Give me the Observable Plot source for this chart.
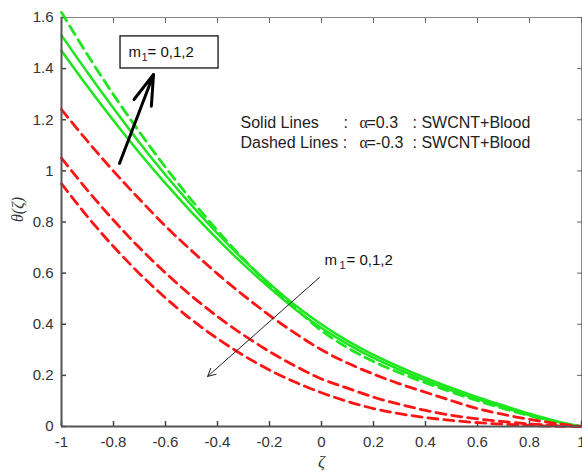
<!DOCTYPE html>
<html><head><meta charset="utf-8">
<script src="https://cdn.jsdelivr.net/npm/d3@7"></script>
<script src="https://cdn.jsdelivr.net/npm/@observablehq/plot@0.6"></script>
<style>body{margin:0;background:#fff} svg{display:block}</style>
</head><body><div id="chart"></div>
<script>
// ---- data ----
const zeta = [-1,-0.9,-0.8,-0.7,-0.6,-0.5,-0.4,-0.3,-0.2,-0.1,0,0.1,0.2,0.3,0.4,0.5,0.6,0.7,0.8,0.9,1];
// alpha = 0.3 (green)
const greenSolidA = [1.47,1.330,1.197,1.070,0.951,0.839,0.733,0.634,0.543,0.458,0.385,0.322,0.268,0.222,0.180,0.142,0.107,0.075,0.045,0.019,0];
const greenSolidB = [1.53,1.385,1.245,1.110,0.984,0.866,0.755,0.652,0.559,0.473,0.399,0.335,0.280,0.233,0.190,0.151,0.115,0.082,0.050,0.022,0];
const greenDashed = [1.62,1.454,1.298,1.152,1.014,0.886,0.766,0.655,0.554,0.462,0.375,0.308,0.254,0.210,0.171,0.135,0.101,0.070,0.042,0.017,0];
// alpha = -0.3 (red, dashed)
const redTop = [1.24,1.116,0.999,0.889,0.784,0.688,0.597,0.513,0.435,0.364,0.300,0.248,0.205,0.167,0.134,0.101,0.070,0.047,0.028,0.012,0];
const redMid = [1.05,0.924,0.807,0.699,0.601,0.511,0.430,0.358,0.293,0.236,0.186,0.150,0.115,0.087,0.063,0.044,0.030,0.019,0.010,0.004,0];
const redLow = [0.95,0.821,0.704,0.598,0.503,0.418,0.344,0.278,0.221,0.173,0.132,0.098,0.070,0.050,0.035,0.024,0.015,0.009,0.004,0.001,0];

const xTicks = [-1,-0.8,-0.6,-0.4,-0.2,0,0.2,0.4,0.6,0.8,1];
const yTicks = [0,0.2,0.4,0.6,0.8,1,1.2,1.4,1.6];
const xDomain = [-1, 1];
const yDomain = [0, 1.6];

// annotations (data units)
const boxRect = [{x1:-0.773, x2:-0.396, y1:1.4006, y2:1.526}];
const arrowUp = [{x1:-0.777, y1:1.029, x2:-0.646, y2:1.377}];
const arrowDown = [{x1:-0.008, y1:0.583, x2:-0.438, y2:0.196}];
const mLabelBox = [{x:-0.742, y:1.463}];
const mLabelMid = [{x:0.0115, y:0.649}];
const legendRowY = [1.189, 1.111];
const legendNames = ["Solid Lines", "Dashed Lines :"];
const legendAlpha = ["=0.3", "=-0.3"];
const legendCols = {name:-0.3115, colon:0.0846, alpha:0.146, value:0.173, fluid:0.35};

// ---- build tables ----
const toRows = (vals, key) => vals.map((v, i) => ({zeta: zeta[i], theta: v, key}));
const greenSolidRows = [...toRows(greenSolidA, "gA"), ...toRows(greenSolidB, "gB")];
const greenDashedRows = toRows(greenDashed, "gD");
const redRows = [...toRows(redTop, "r0"), ...toRows(redMid, "r1"), ...toRows(redLow, "r2")];

const GREEN = "#1ee61e", RED = "#ff1414";
const fmt = d => String(d);
const mText = (data, dxSub, dxEq) => [
  Plot.text(data, {x:"x", y:"y", text: () => "m", textAnchor:"start", fontSize:15, fill:"#111"}),
  Plot.text(data, {x:"x", y:"y", text: () => "1", textAnchor:"start", fontSize:11, dx:dxSub, dy:5, fill:"#223"}),
  Plot.text(data, {x:"x", y:"y", text: () => "= 0,1,2", textAnchor:"start", fontSize:15, dx:dxEq, fill:"#111"})
];

const chart = Plot.plot({
  width: 582, height: 476,
  marginLeft: 61, marginRight: 1, marginTop: 17, marginBottom: 50,
  style: {fontFamily: "'Liberation Sans', Arial, sans-serif", fontSize: "15px", color: "#333", background: "#fff"},
  x: {domain: xDomain},
  y: {domain: yDomain},
  marks: [
    Plot.frame({stroke: "#888", strokeWidth: 1}),
    // tick labels
    Plot.axisX(xTicks, {anchor: "bottom", tickSize: 0, tickPadding: 10, tickFormat: fmt, label: null, fontSize: 15}),
    Plot.axisY(yTicks, {anchor: "left", tickSize: 0, tickPadding: 8, tickFormat: fmt, label: null, fontSize: 15}),
    // inward ticks on all four sides
    Plot.axisX(xTicks, {anchor: "bottom", tickSize: -5, tickFormat: () => "", label: null, stroke: "#444", strokeWidth: 1.5}),
    Plot.axisX(xTicks, {anchor: "top", tickSize: -5, tickFormat: () => "", label: null, stroke: "#666"}),
    Plot.axisY(yTicks, {anchor: "left", tickSize: -5, tickFormat: () => "", label: null, stroke: "#444", strokeWidth: 1.5}),
    Plot.axisY(yTicks, {anchor: "right", tickSize: -5, tickFormat: () => "", label: null, stroke: "#666"}),
    // curves
    Plot.line(greenSolidRows, {x: "zeta", y: "theta", z: "key", stroke: GREEN, strokeWidth: 2.5, curve: "catmull-rom"}),
    Plot.line(greenDashedRows, {x: "zeta", y: "theta", z: "key", stroke: GREEN, strokeWidth: 2.8, strokeDasharray: "10,6", curve: "catmull-rom"}),
    Plot.line(redRows, {x: "zeta", y: "theta", z: "key", stroke: RED, strokeWidth: 2.8, strokeDasharray: "10,6", curve: "catmull-rom"}),
    // main axes lines
    Plot.ruleX([xDomain[0]], {stroke: "#555", strokeWidth: 2}),
    Plot.ruleY([yDomain[0]], {stroke: "#555", strokeWidth: 2}),
    // axis titles
    Plot.text(["ζ"], {frameAnchor: "bottom", dy: 40, fontStyle: "italic", fontFamily: "'Liberation Serif', serif", fontSize: 17, fill: "#333"}),
    Plot.text(["θ(ζ)"], {frameAnchor: "left", dx: -44, rotate: -90, fontStyle: "italic", fontFamily: "'Liberation Serif', serif", fontSize: 16, fill: "#333"}),
    // boxed annotation
    Plot.rect(boxRect, {x1: "x1", x2: "x2", y1: "y1", y2: "y2", fill: "white", stroke: "#111", strokeWidth: 1.3}),
    ...mText(mLabelBox, 13, 19),
    Plot.arrow(arrowUp, {x1: "x1", y1: "y1", x2: "x2", y2: "y2", stroke: "#000", strokeWidth: 3, headLength: 16, headAngle: 34}),
    // second annotation
    ...mText(mLabelMid, 15, 22),
    Plot.arrow(arrowDown, {x1: "x1", y1: "y1", x2: "x2", y2: "y2", stroke: "#222", strokeWidth: 1, headLength: 13, headAngle: 55}),
    // legend text
    Plot.text(legendRowY, {x: () => legendCols.name, y: d => d, text: (d, i) => legendNames[i], textAnchor: "start", fontSize: 16, fill: "#222"}),
    Plot.text([legendRowY[0]], {x: () => legendCols.colon, y: d => d, text: () => ":", textAnchor: "start", fontSize: 16, fill: "#222"}),
    Plot.text(legendRowY, {x: () => legendCols.alpha, y: d => d, text: () => "α", textAnchor: "start", fontSize: 16, fontFamily: "'Liberation Serif', serif", fill: "#222"}),
    Plot.text(legendRowY, {x: () => legendCols.value, y: d => d, text: (d, i) => legendAlpha[i], textAnchor: "start", fontSize: 16, fill: "#222"}),
    Plot.text(legendRowY, {x: () => legendCols.fluid, y: d => d, text: () => ": SWCNT+Blood", textAnchor: "start", fontSize: 16, fill: "#222"})
  ]
});
document.getElementById("chart").appendChild(chart);
</script>
</body></html>
